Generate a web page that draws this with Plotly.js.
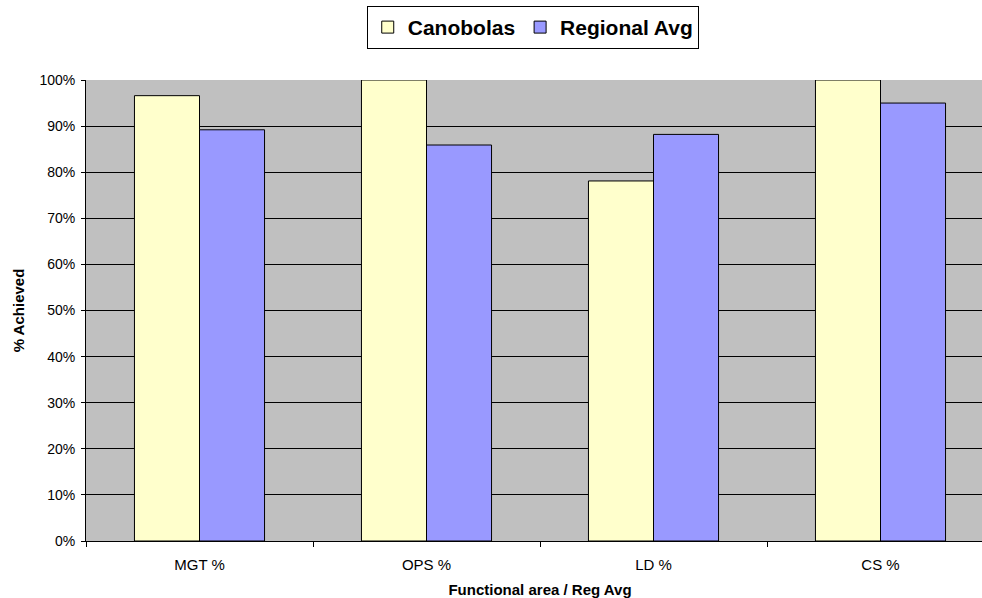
<!DOCTYPE html>
<html>
<head>
<meta charset="utf-8">
<script src="https://cdn.plot.ly/plotly-3.0.1.min.js"></script>
<style>
html,body{margin:0;padding:0;overflow:hidden;background:#fff;}
#chart{width:994px;height:598px;}
</style>
</head>
<body>
<div id="chart"></div>
<script>
const categories = ["MGT %", "OPS %", "LD %", "CS %"];
const canobolas = [0.966, 1.0, 0.781, 1.0];
const regionalAvg = [0.892, 0.859, 0.882, 0.950];
const yTickVals = [0, 0.1, 0.2, 0.3, 0.4, 0.5, 0.6, 0.7, 0.8, 0.9, 1.0];
const yTickText = ["0%", "10%", "20%", "30%", "40%", "50%", "60%", "70%", "80%", "90%", "100%"];

const traces = [
  {type: "bar", name: "Canobolas", x: categories, y: canobolas,
   marker: {color: "#FFFFCC", line: {color: "#000", width: 1}}},
  {type: "bar", name: "Regional Avg", x: categories, y: regionalAvg,
   marker: {color: "#9999FF", line: {color: "#000", width: 1}}}
];

const layout = {
  width: 994, height: 598,
  margin: {l: 86, r: 0, t: 80, b: 57},
  paper_bgcolor: "#fff",
  plot_bgcolor: "#C0C0C0",
  barmode: "group",
  bargap: 0.427,
  bargroupgap: 0,
  font: {family: "Liberation Sans, Arial, sans-serif", color: "#000"},
  showlegend: true,
  legend: {
    orientation: "h", x: 0.492, xanchor: "center", y: 1.114, yanchor: "middle",
    bgcolor: "#fff", bordercolor: "#000", borderwidth: 1,
    font: {size: 21, family: "Liberation Sans, Arial, sans-serif", weight: "bold"},
    itemwidth: 30
  },
  xaxis: {
    tickson: "boundaries", ticks: "outside", ticklen: 5, tickcolor: "#000",
    showline: true, linecolor: "#000", linewidth: 1,
    tickfont: {size: 15},
    ticklabelstandoff: 10,
    title: {text: "<b>Functional area / Reg Avg</b>", font: {size: 15}, standoff: 13}
  },
  yaxis: {
    range: [0, 1], tickvals: yTickVals, ticktext: yTickText,
    ticks: "outside", ticklen: 4, tickcolor: "#000",
    showgrid: true, gridcolor: "#000", gridwidth: 1,
    showline: true, linecolor: "#000", linewidth: 1,
    zeroline: false,
    tickfont: {size: 14},
    ticklabelstandoff: 3,
    title: {text: "<b>% Achieved</b>", font: {size: 15}, standoff: 11}
  }
};

Plotly.newPlot("chart", traces, layout, {displayModeBar: false, staticPlot: true});
</script>
</body>
</html>
